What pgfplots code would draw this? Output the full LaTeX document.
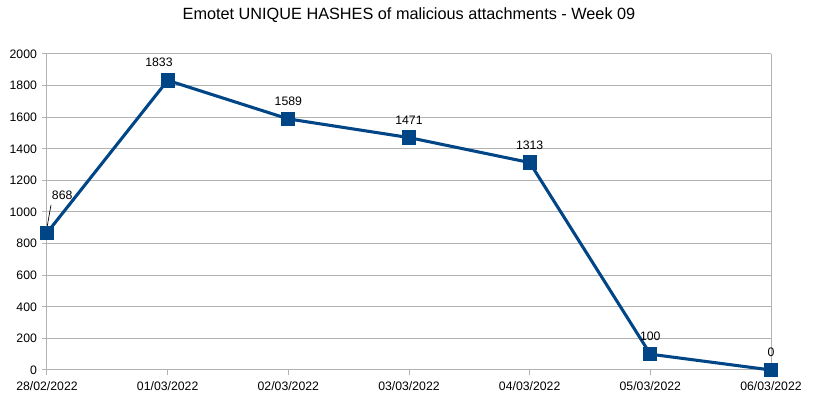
\documentclass[border=0pt]{standalone}
\usepackage{pgfplots}
\pgfplotsset{compat=1.18}
\usetikzlibrary{calc}
\usepackage{fontspec}
\setmainfont{Liberation Sans}
\definecolor{lineblue}{HTML}{004586}
\definecolor{gridgray}{HTML}{B3B3B3}
\begin{document}
\begin{tikzpicture}[x=0.75pt,y=0.75pt]
\begin{axis}[
  name=ax,
  scale only axis,
  width=543pt, height=237pt,
  xmin=0, xmax=6, ymin=0, ymax=2000,
  xtick={0,...,6},
  xticklabels={28/02/2022,01/03/2022,02/03/2022,03/03/2022,04/03/2022,05/03/2022,06/03/2022},
  ytick={0,200,...,2000},
  ymajorgrids,
  grid style={gridgray, line width=0.75pt},
  axis line style={gridgray, line width=0.75pt},
  axis x line*=bottom,
  axis y line*=left,
  tick style={gridgray, line width=0.75pt},
  tick align=outside,
  major tick length=4pt,
  tick label style={font=\fontsize{9.2pt}{11pt}\selectfont, text=black},
  /pgf/number format/assume math mode=true,
  /pgf/number format/1000 sep={},
  xticklabel style={yshift=-1pt},
  clip=false,
  title={Emotet UNIQUE HASHES of malicious attachments - Week 09},
  title style={font=\fontsize{12.2pt}{14pt}\selectfont, yshift=14pt},
  nodes near coords,
  every node near coord/.append style={font=\fontsize{9.2pt}{11pt}\selectfont, text=black, yshift=5.5pt},
]
\draw[gridgray, line width=0.75pt] (rel axis cs:1,0) -- (rel axis cs:1,1);
\addplot[lineblue, line width=2.3pt, mark=square*, mark size=4.2pt,
  mark options={solid, fill=lineblue},
  nodes near coords={\ifnum\coordindex=0 \else\ifnum\coordindex=1 \hspace*{-13pt}\fi\pgfmathprintnumber{\pgfplotspointmeta}\fi}]
  coordinates {(0,868) (1,1833) (2,1589) (3,1471) (4,1313) (5,100) (6,0)};
\draw[black, line width=0.5pt] ($(axis cs:0,868)+(0pt,4pt)$) -- ($(axis cs:0,868)+(3pt,21pt)$);
\node[font=\fontsize{9.2pt}{11pt}\selectfont, anchor=west, inner sep=0pt] at ($(axis cs:0,868)+(3.5pt,28.5pt)$) {868};
\end{axis}
\path (ax.south west) ++(-47,-29) coordinate (bl);
\path (ax.north east) ++(43,54) coordinate (tr);
\path[use as bounding box] (bl) rectangle (tr);
\end{tikzpicture}
\end{document}
